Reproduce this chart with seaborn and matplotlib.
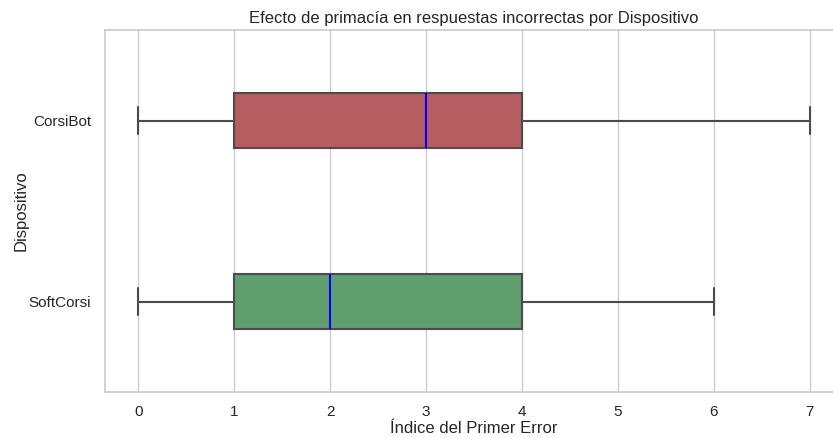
import matplotlib
matplotlib.use("Agg")
import matplotlib.pyplot as plt
import seaborn as sns
import pandas as pd

# Index of the first error per trial, by device
corsibot_idx = [0, 1, 3, 4, 7]
softcorsi_idx = [0, 1, 2, 4, 6]
devices = ["CorsiBot", "SoftCorsi"]
device_colors = ["r", "g"]

df = pd.DataFrame({
    "Dispositivo": [devices[0]] * len(corsibot_idx) + [devices[1]] * len(softcorsi_idx),
    "Índice del Primer Error": corsibot_idx + softcorsi_idx,
})

sns.set_theme(style="whitegrid")
plt.rcParams["font.family"] = ["Liberation Sans", "DejaVu Sans"]

dpi = 100
fig = plt.figure(figsize=(833 / dpi, 438 / dpi), dpi=dpi)
ax = fig.add_axes([0.1255, 0.105, 0.887, 0.8265])

sns.boxplot(
    data=df, x="Índice del Primer Error", y="Dispositivo",
    hue="Dispositivo", palette=device_colors, order=devices,
    width=0.3, linewidth=1.5, legend=False, ax=ax,
    medianprops={"color": "blue"},
)

ax.set_xlim(-0.35, 7.35)
ax.set_title("Efecto de primacía en respuestas incorrectas por Dispositivo", pad=5)
ax.set_xlabel("Índice del Primer Error", labelpad=1)
ax.set_ylabel("Dispositivo", labelpad=0)

fig.savefig("out.png", dpi=dpi)
